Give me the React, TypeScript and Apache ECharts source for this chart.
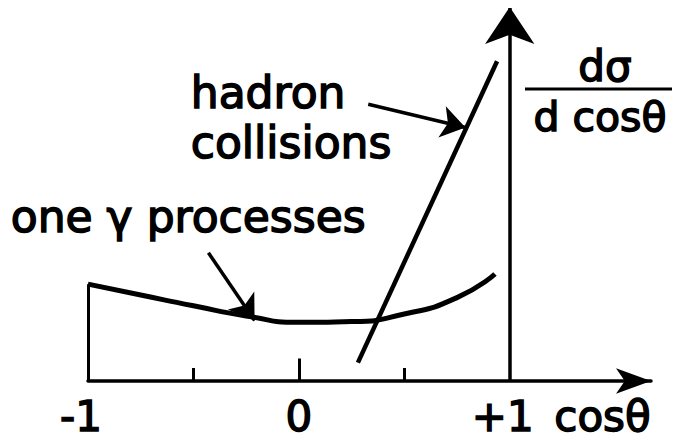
import React, { useEffect, useRef } from "react";
import * as echarts from "echarts";

// x-axis labels
const labelValues = [-1, 0, 1];
const labelTexts = ["-1", "0", "+1"];
// inner tick marks on the x axis (position, height in y units)
const tickX = [-0.5, 0, 0.5];
const tickH = [0.35, 0.6, 0.35];
// one-photon process curve
const gammaX = [-1, -0.75, -0.5, -0.25, 0, 0.25, 0.5, 0.75, 0.93];
const gammaY = [2.59, 2.3, 2.01, 1.74, 1.57, 1.59, 1.79, 2.23, 2.86];
// hadron collisions line
const hadronX = [0.28, 0.94];
const hadronY = [0.49, 8.55];
// annotation arrows [from, to]
const arrowHadron = [[0.329, 7.4], [0.79, 6.78]];
const arrowGamma = [[-0.429, 3.43], [-0.21, 1.62]];
// vertical axis position and top
const yAxisX = 1;
const yAxisTop = 10;

const FONT = "DejaVu Sans";

export default function App() {
  const ref = useRef<HTMLDivElement>(null);
  useEffect(() => {
    if (!ref.current) return;
    const chart = echarts.init(ref.current, null, { renderer: "svg" });
    const textStyle = (size: number) => ({
      fontFamily: FONT,
      fontSize: size,
      fill: "#000",
      stroke: "#000",
      lineWidth: 1.5,
    });
    const labelBase = {
      fontFamily: FONT,
      fontSize: 42,
      lineHeight: 42,
      color: "#000",
      textBorderColor: "#000",
      textBorderWidth: 1.5,
    };
    chart.setOption({
      animation: false,
      backgroundColor: "#fff",
      grid: { left: 88, right: 29, top: 7, bottom: 60 },
      xAxis: {
        type: "value",
        min: -1,
        max: 1.67,
        splitLine: { show: false },
        axisTick: { show: false },
        axisLine: {
          show: true,
          onZero: false,
          symbol: ["none", "arrow"],
          symbolSize: [19, 35],
          lineStyle: { color: "#000", width: 3.5 },
        },
        axisLabel: {
          customValues: labelValues,
          formatter: (v: number) => {
            const t = labelTexts[labelValues.indexOf(v)] ?? "";
            return v === 0 ? "{c|" + t + "}" : "{s|" + t + "}";
          },
          ...labelBase,
          margin: 14,
          rich: {
            c: { ...labelBase },
            s: { ...labelBase, padding: [0, 14, 0, 0] },
          },
        },
        name: "cosθ",
        nameLocation: "end",
        nameGap: 0,
        nameTextStyle: {
          ...labelBase,
          align: "right",
          verticalAlign: "top",
          padding: [14, 6, 0, 0],
        },
      },
      yAxis: {
        type: "value",
        min: 0,
        max: 10,
        show: false,
      },
      series: [
        {
          type: "line",
          name: "one γ processes",
          smooth: 0.6,
          showSymbol: false,
          data: gammaX.map((x, i) => [x, gammaY[i]]),
          lineStyle: { color: "#000", width: 5 },
        },
        {
          type: "line",
          name: "hadron collisions",
          showSymbol: false,
          data: hadronX.map((x, i) => [x, hadronY[i]]),
          lineStyle: { color: "#000", width: 4.5 },
        },
        {
          type: "lines",
          coordinateSystem: "cartesian2d",
          symbol: ["none", "none"],
          lineStyle: { color: "#000", width: 3, opacity: 1, curveness: 0 },
          data: [
            { coords: [[gammaX[0], 0], [gammaX[0], gammaY[0]]] },
            ...tickX.map((x, i) => ({ coords: [[x, 0], [x, tickH[i]]] })),
          ],
        },
        {
          type: "lines",
          coordinateSystem: "cartesian2d",
          symbol: ["none", "arrow"],
          symbolSize: [19, 37],
          lineStyle: { color: "#000", width: 3.5, opacity: 1 },
          data: [{ coords: [[yAxisX, 0], [yAxisX, yAxisTop]] }],
        },
        {
          type: "lines",
          coordinateSystem: "cartesian2d",
          symbol: ["none", "arrow"],
          symbolSize: [13, 24],
          lineStyle: { color: "#000", width: 3.5, opacity: 1 },
          data: [{ coords: arrowHadron }, { coords: arrowGamma }],
        },
      ],
      graphic: [
        { type: "text", left: 190, top: 70, style: { text: "hadron", ...textStyle(44) } },
        { type: "text", left: 190, top: 120, style: { text: "collisions", ...textStyle(44) } },
        { type: "text", left: 10, top: 194, style: { text: "one γ processes", ...textStyle(44) } },
        {
          type: "text",
          x: 605,
          y: 66,
          style: { text: "dσ", ...textStyle(42), align: "center", verticalAlign: "middle" },
        },
        {
          type: "line",
          shape: { x1: 525, y1: 89, x2: 675, y2: 89 },
          style: { stroke: "#000", lineWidth: 3 },
        },
        {
          type: "text",
          x: 600,
          y: 117,
          style: { text: "d cosθ", ...textStyle(41), align: "center", verticalAlign: "middle" },
        },
      ],
    });
    return () => chart.dispose();
  }, []);
  return <div ref={ref} style={{ width: 680, height: 441, margin: -8 }} />;
}
